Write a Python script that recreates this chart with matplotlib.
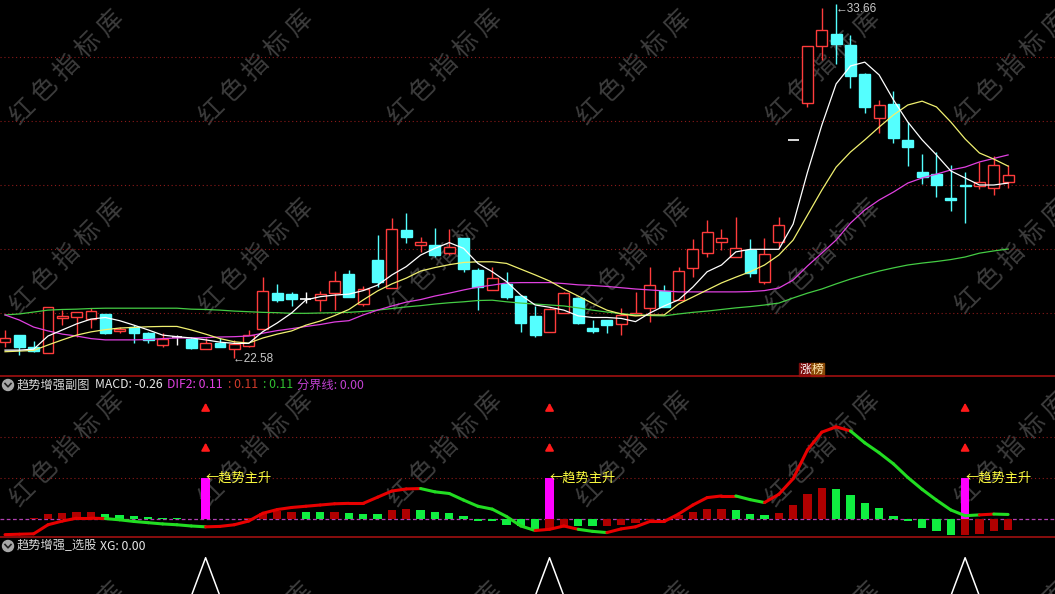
import numpy as np
import matplotlib
matplotlib.use("Agg")
import matplotlib.pyplot as plt
from matplotlib.patches import Rectangle, Ellipse
from matplotlib.collections import LineCollection
from matplotlib.lines import Line2D

plt.rcParams['font.family'] = ['Noto Sans CJK SC', 'DejaVu Sans']

W, H = 1055, 594

# 日K (开, 高, 低, 收)
opens = [23.10, 23.31, 22.95, 22.76, 23.85, 23.88, 23.81, 23.97, 23.43, 23.55,
         23.37, 23.00, 23.26, 23.18, 22.88, 23.05, 22.88, 22.98, 23.50, 24.62,
         24.59, 24.45, 24.41, 24.62, 25.22, 24.28, 25.66, 24.77, 26.59, 26.11,
         26.12, 25.87, 26.33, 25.34, 24.72, 24.91, 24.53, 23.91, 23.42, 23.99,
         24.46, 23.52, 23.78, 23.66, 23.94, 24.15, 24.70, 24.41, 25.40, 25.87,
         26.23, 25.76, 25.97, 24.98, 26.23, 29.41, 30.57, 32.34, 32.71, 32.37,
         31.47, 30.08, 30.53, 29.41, 28.40, 28.34, 27.58, 28.00, 27.98, 27.90,
         28.10]
highs = [23.47, 23.31, 23.13, 24.18, 24.09, 24.03, 24.15, 23.97, 23.57, 23.62,
         23.42, 23.38, 23.31, 23.26, 23.23, 23.22, 23.16, 23.47, 25.11, 24.91,
         24.65, 24.67, 24.70, 25.31, 25.34, 24.84, 26.44, 26.96, 27.12, 26.38,
         26.65, 26.62, 26.33, 25.40, 25.45, 25.29, 24.56, 24.22, 24.15, 24.67,
         24.51, 23.78, 23.78, 24.15, 24.67, 25.45, 24.87, 25.45, 26.30, 26.91,
         26.62, 27.01, 26.30, 26.33, 26.99, 29.41, 32.34, 33.52, 33.66, 32.69,
         31.51, 30.66, 30.95, 29.98, 28.97, 29.04, 28.62, 28.42, 28.73, 28.91,
         28.62]
lows = [22.95, 22.69, 22.79, 22.76, 23.62, 23.26, 23.52, 23.34, 23.37, 23.07,
        23.07, 22.95, 23.00, 22.89, 22.88, 22.93, 22.58, 22.95, 23.50, 24.35,
        24.23, 24.30, 24.06, 24.09, 24.49, 24.22, 24.82, 24.77, 26.20, 25.92,
        25.76, 25.81, 25.29, 24.09, 24.72, 24.43, 23.42, 23.26, 23.41, 23.99,
        23.66, 23.37, 23.38, 23.31, 23.94, 23.73, 24.18, 24.41, 25.11, 25.76,
        25.97, 25.76, 25.13, 24.91, 26.07, 29.41, 30.43, 31.91, 31.78, 31.02,
        30.26, 29.62, 29.32, 28.60, 28.02, 27.62, 27.20, 26.82, 27.87, 27.69,
        27.92]
closes = [23.23, 22.95, 22.82, 24.18, 23.90, 24.03, 24.06, 23.37, 23.51, 23.38,
          23.16, 23.18, 23.26, 22.92, 23.07, 22.95, 23.02, 23.31, 24.70, 24.41,
          24.44, 24.45, 24.58, 25.00, 24.51, 24.74, 24.98, 26.62, 26.38, 26.22,
          25.81, 26.05, 25.37, 24.82, 25.08, 24.51, 23.68, 23.31, 24.12, 24.62,
          23.70, 23.45, 23.62, 23.94, 23.99, 24.87, 24.18, 25.31, 25.99, 26.52,
          26.33, 26.02, 25.24, 25.84, 26.75, 29.41, 32.34, 32.84, 32.40, 31.42,
          30.45, 30.49, 29.46, 29.20, 28.26, 28.00, 27.54, 27.96, 28.08, 28.62,
          28.31]

# 均线
ma5 = [22.84, 22.84, 22.87, 23.28, 23.47, 23.66, 23.81, 23.86, 23.76, 23.62,
       23.47, 23.31, 23.26, 23.22, 23.16, 23.09, 23.05, 23.05, 23.42, 23.69,
       24.00, 24.41, 24.51, 24.56, 24.59, 24.70, 24.87, 25.19, 25.45, 25.81,
       26.02, 26.20, 26.02, 25.55, 25.29, 24.98, 24.56, 24.25, 24.18, 24.09,
       23.91, 23.86, 23.86, 23.83, 23.73, 24.00, 24.22, 24.41, 24.81, 25.29,
       25.50, 25.91, 25.99, 25.99, 25.99, 26.78, 28.40, 29.87, 31.16, 31.72,
       31.84, 31.44, 30.66, 29.97, 29.41, 28.94, 28.44, 28.22, 28.00, 28.00,
       28.06]
ma10 = [22.79, 22.81, 22.83, 23.00, 23.16, 23.31, 23.41, 23.48, 23.53, 23.55,
        23.57, 23.58, 23.58, 23.47, 23.34, 23.20, 23.10, 23.06, 23.22, 23.34,
        23.44, 23.62, 23.75, 23.92, 24.11, 24.41, 24.69, 24.91, 25.09, 25.31,
        25.42, 25.51, 25.58, 25.60, 25.60, 25.55, 25.37, 25.19, 25.00, 24.75,
        24.53, 24.30, 24.09, 23.97, 23.91, 23.94, 23.94, 24.28, 24.50, 24.72,
        24.94, 25.12, 25.29, 25.50, 25.81, 26.28, 27.06, 27.84, 28.56, 29.03,
        29.41, 29.81, 30.19, 30.50, 30.62, 30.44, 29.97, 29.44, 29.00, 28.81,
        28.59]
ma20 = [23.94, 23.78, 23.56, 23.44, 23.34, 23.28, 23.20, 23.16, 23.16, 23.16,
        23.17, 23.20, 23.22, 23.22, 23.23, 23.25, 23.26, 23.28, 23.37, 23.45,
        23.51, 23.58, 23.64, 23.72, 23.76, 23.94, 24.09, 24.22, 24.34, 24.42,
        24.53, 24.62, 24.72, 24.81, 24.87, 24.94, 24.95, 24.95, 24.95, 24.92,
        24.88, 24.86, 24.83, 24.79, 24.75, 24.72, 24.69, 24.66, 24.66, 24.66,
        24.66, 24.66, 24.67, 24.70, 24.78, 25.03, 25.47, 25.87, 26.28, 26.81,
        27.22, 27.53, 27.78, 28.06, 28.22, 28.34, 28.47, 28.56, 28.72, 28.83,
        28.94]
ma60 = [23.94, 23.97, 24.03, 24.09, 24.11, 24.12, 24.14, 24.15, 24.15, 24.15,
        24.15, 24.15, 24.15, 24.12, 24.11, 24.09, 24.06, 24.04, 24.02, 24.01,
        23.99, 23.99, 24.00, 24.01, 24.02, 24.05, 24.09, 24.14, 24.19, 24.23,
        24.28, 24.32, 24.35, 24.39, 24.40, 24.35, 24.31, 24.28, 24.25, 24.22,
        24.16, 24.09, 24.03, 23.98, 23.94, 23.92, 23.91, 23.97, 24.02, 24.06,
        24.11, 24.16, 24.20, 24.25, 24.31, 24.47, 24.62, 24.75, 24.91, 25.06,
        25.19, 25.31, 25.41, 25.50, 25.56, 25.61, 25.67, 25.75, 25.87, 25.94,
        26.00]

# 副图: MACD 柱, DIF2 线
macd = [0.00, 0.01, 0.03, 0.12, 0.14, 0.17, 0.17, 0.12, 0.10, 0.07,
        0.05, 0.02, 0.02, 0.01, 0.01, 0.01, 0.01, 0.03, 0.15, 0.20,
        0.17, 0.17, 0.17, 0.17, 0.14, 0.11, 0.11, 0.22, 0.24, 0.22,
        0.17, 0.14, 0.07, -0.05, -0.06, -0.14, -0.18, -0.26, -0.25, -0.20,
        -0.18, -0.18, -0.18, -0.14, -0.09, -0.02, 0.01, 0.09, 0.18, 0.25,
        0.25, 0.22, 0.12, 0.10, 0.15, 0.34, 0.60, 0.75, 0.73, 0.58,
        0.39, 0.27, 0.07, -0.06, -0.21, -0.30, -0.38, -0.38, -0.36, -0.28,
        -0.26]
macd_col = ("RRRRRRR" "GGGGGGG" "RRRRRRR" "GG" "R" "GGG" "RR" "GGGGGGGGG" "RR"
            "GG" "RRRR" "G" "RRRR" "GGG" "RRRR" "GGGGGGGGG" "RRRR")
dif2 = [-0.38, -0.37, -0.36, -0.14, -0.05, 0.02, 0.02, 0.01, -0.02, -0.06,
        -0.09, -0.12, -0.14, -0.17, -0.19, -0.18, -0.14, -0.05, 0.14, 0.23,
        0.28, 0.31, 0.34, 0.37, 0.38, 0.38, 0.53, 0.68, 0.73, 0.74,
        0.66, 0.62, 0.46, 0.31, 0.24, 0.06, -0.17, -0.28, -0.25, -0.17,
        -0.25, -0.30, -0.33, -0.24, -0.19, -0.06, -0.06, 0.12, 0.34, 0.52,
        0.56, 0.56, 0.47, 0.40, 0.60, 0.98, 1.68, 2.11, 2.24, 2.14,
        1.85, 1.61, 1.34, 1.01, 0.72, 0.46, 0.22, 0.08, 0.10, 0.12,
        0.11]
dif_col = ("R" * 7 + "G" * 7 + "R" * 15 + "G" * 8 + "R" * 3 + "G" * 2 +
           "R" * 9 + "G" * 2 + "R" * 6 + "G" * 9 + "R" + "G")
signal_days = [14, 38, 67]   # 趋势主升 / XG 信号

n = len(closes)
x = np.arange(n)

RED = '#ff3c3c'
CYAN = '#54ffff'
GRID = '#8c1a1a'

fig = plt.figure(figsize=(W / 100, H / 100), dpi=100)
fig.patch.set_facecolor('black')


def add_ax(top, bottom):
    ax = fig.add_axes([0, 1 - bottom / H, 1, (bottom - top) / H])
    ax.set_facecolor('none')
    ax.set_xlim(-5 / 14.33, 1050 / 14.33)
    ax.set_xticks([])
    ax.set_yticks([])
    for s in ax.spines.values():
        s.set_visible(False)
    return ax


ax1 = add_ax(0, 376)
ax2 = add_ax(376, 537)
ax3 = add_ax(537, 594)

# ---- 主图 K线 ----
ax1.set_ylim(33.78125 - 376 / 32, 33.78125)
for p in [24, 26, 28, 30, 32]:
    ax1.axhline(p, color=GRID, lw=0.8, ls=(0, (1, 2.5)), zorder=1)

bw = 0.76
for i in range(n):
    o, h, l, c = opens[i], highs[i], lows[i], closes[i]
    if c > o:
        ax1.vlines(i, c, h, color=RED, lw=1, zorder=2)
        ax1.vlines(i, l, o, color=RED, lw=1, zorder=2)
        ax1.add_patch(Rectangle((i - bw / 2, o), bw, c - o, facecolor='black',
                                edgecolor=RED, lw=1, zorder=2))
    elif c < o:
        ax1.vlines(i, l, h, color=CYAN, lw=1, zorder=2)
        ax1.add_patch(Rectangle((i - bw / 2, c), bw, o - c, facecolor=CYAN,
                                edgecolor=CYAN, lw=1, zorder=2))
    else:
        ax1.vlines(i, l, h, color='white', lw=1, zorder=2)
        ax1.hlines(o, i - bw / 2, i + bw / 2, color='white', lw=1.2, zorder=2)

ax1.plot(x, ma60, color='#44cc44', lw=0.9, zorder=3)
ax1.plot(x, ma20, color='#e040e0', lw=0.9, zorder=3)
ax1.plot(x, ma10, color='#f0f070', lw=0.9, zorder=3)
ax1.plot(x, ma5, color='white', lw=0.9, zorder=3)

hi = int(np.argmax(highs))
lo = int(np.argmin(lows))
ax1.text(hi - 0.05, highs[hi] - 0.15, '←%.2f' % highs[hi], color='#c8c8c8',
         fontsize=8.5, family=['Liberation Sans', 'DejaVu Sans'], va='center', ha='left')
ax1.text(lo - 0.15, lows[lo] - 0.03, '←%.2f' % lows[lo], color='#c8c8c8',
         fontsize=8.5, family=['Liberation Sans', 'DejaVu Sans'], va='center', ha='left')

# 涨榜 标签
fig.add_artist(Rectangle((799 / W, 1 - 376 / H), 12 / W, 13 / H, color='#7a0c0c'))
fig.add_artist(Rectangle((811 / W, 1 - 376 / H), 13 / W, 13 / H, color='#8a4a08'))
fig.text(805 / W, 1 - 369.5 / H, '涨', color='white', fontsize=8.5, ha='center', va='center')
fig.text(817.5 / W, 1 - 369.5 / H, '榜', color='#ffe8b0', fontsize=8.5, ha='center', va='center')

# ---- 副图 ----
k = 0.0243
ax2.set_ylim(-18 * k, 143 * k)
for v in [1, 2]:
    ax2.axhline(v, color=GRID, lw=0.8, ls=(0, (1, 2.5)), zorder=1)
ax2.axhline(0, color='#b040b0', lw=0.9, ls=(0, (3, 2)), zorder=1)
cols = ['#b00000' if ch == 'R' else '#10ee40' for ch in macd_col]
ax2.bar(x, macd, width=0.58, color=cols, zorder=2)

for d in signal_days:
    ax2.bar(d, 1.0, width=0.58, color='#ff00ff', zorder=3)
    ax2.text(d + 0.02, 1.0, '←趋势主升', color='#ffff40', fontsize=9.5,
             ha='left', va='center', zorder=5)
    for tip, tail in [(2.89, 2.60), (1.92, 1.63)]:
        ax2.annotate('', xy=(d, tip), xytext=(d, tail),
                     arrowprops=dict(arrowstyle='-|>,head_width=0.25,head_length=0.45',
                                     color='#ff1a1a', lw=1.3))

segs = [[(i, dif2[i]), (i + 1, dif2[i + 1])] for i in range(n - 1)]
lc = LineCollection(segs, colors=['#e80000' if ch == 'R' else '#22dd22' for ch in dif_col],
                    linewidths=2.2, capstyle='round', zorder=4)
ax2.add_collection(lc)

# ---- 选股 ----
xg = np.zeros(n)
xg[signal_days] = 1
ax3.set_ylim(2 / 38.3, 59 / 38.3)
ax3.plot(x, xg, color='white', lw=1.1)

# 分隔线
for yy in [376, 537]:
    fig.add_artist(Line2D([0, 1], [1 - yy / H, 1 - yy / H], color='#a01010', lw=1.2))


# 标题行
def icon(yy):
    fig.add_artist(Ellipse((8 / W, 1 - yy / H), 11 / W, 11 / H, color='#a8a8a8'))
    fig.add_artist(Line2D([5 / W, 8 / W, 11 / W],
                          [1 - (yy - 1.5) / H, 1 - (yy + 1.8) / H, 1 - (yy - 1.5) / H],
                          color='#202020', lw=1.2))


icon(385)
hdr = [(17, '趋势增强副图', '#d8d8d8'), (95, 'MACD: -0.26', '#e8e8e8'),
       (167, 'DIF2: 0.11', '#e040e0'), (228, ': 0.11', '#d03a2a'),
       (263, ': 0.11', '#30c030'), (297, '分界线: 0.00', '#c040d0')]
for xx, s, c in hdr:
    fig.text(xx / W, 1 - 385 / H, s, color=c, fontsize=8.8, ha='left', va='center')

icon(546)
fig.text(17 / W, 1 - 546 / H, '趋势增强_选股', color='#d8d8d8', fontsize=8.8, ha='left', va='center')
fig.text(100 / W, 1 - 546 / H, 'XG: 0.00', color='#e8e8e8', fontsize=8.8, ha='left', va='center')

# 水印
for ry in [68, 257, 450, 640]:
    for kk in range(6):
        cx = 67 + 189 * kk
        for j, ch in enumerate('红色指标库'):
            px = cx + (j - 2) * 22
            py = ry - (j - 2) * 22
            fig.text(px / W, 1 - py / H, ch, rotation=45, ha='center', va='center',
                     fontsize=18, fontweight='light', color='#3c3c3c', zorder=-1)

fig.savefig('out.png', dpi=100, facecolor='black')
